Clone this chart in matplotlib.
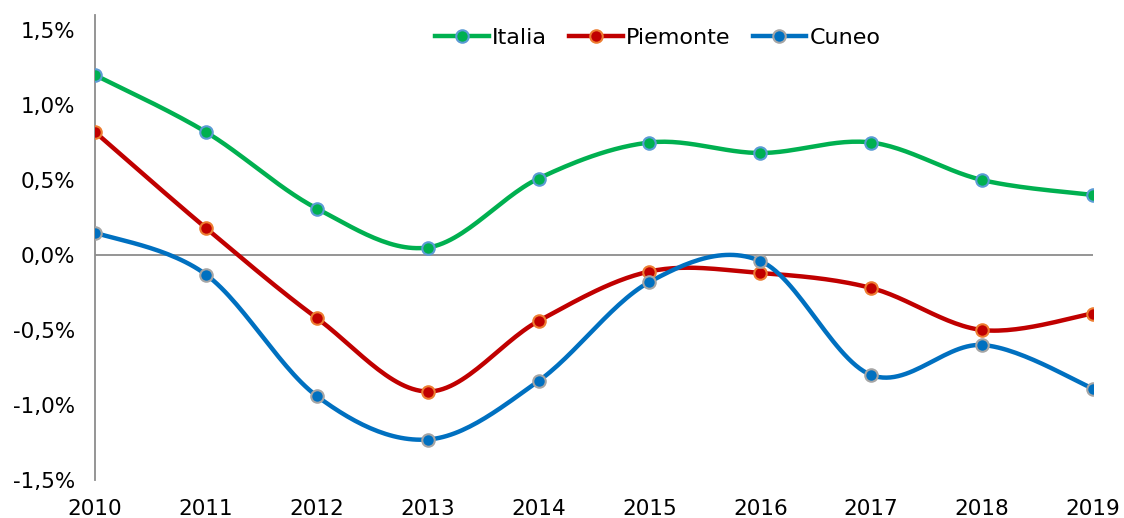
import numpy as np
import matplotlib
matplotlib.use("Agg")
import matplotlib.pyplot as plt
from matplotlib.ticker import FuncFormatter
from matplotlib.lines import Line2D

years = [2010, 2011, 2012, 2013, 2014, 2015, 2016, 2017, 2018, 2019]
italia = [1.20, 0.82, 0.31, 0.05, 0.51, 0.75, 0.68, 0.75, 0.50, 0.40]
piemonte = [0.82, 0.18, -0.42, -0.91, -0.44, -0.11, -0.12, -0.22, -0.50, -0.39]
cuneo = [0.15, -0.13, -0.94, -1.23, -0.84, -0.18, -0.04, -0.80, -0.60, -0.89]

series = [
    ("Italia", italia, "#00B050", "#5B9BD5"),
    ("Piemonte", piemonte, "#C00000", "#ED7D31"),
    ("Cuneo", cuneo, "#0070C0", "#A5A5A5"),
]


def smooth(x, y, n=30):
    x = np.asarray(x, float)
    y = np.asarray(y, float)
    P = np.column_stack([x, y])
    out = []
    for i in range(len(P) - 1):
        p0 = P[i - 1] if i > 0 else P[i]
        p1 = P[i]
        p2 = P[i + 1]
        p3 = P[i + 2] if i + 2 < len(P) else P[i + 1]
        c1 = p1 + (p2 - p0) / 6.0
        c2 = p2 - (p3 - p1) / 6.0
        t = np.linspace(0, 1, n)[:, None]
        seg = ((1 - t) ** 3) * p1 + 3 * ((1 - t) ** 2) * t * c1 + 3 * (1 - t) * t ** 2 * c2 + t ** 3 * p2
        if i > 0:
            seg = seg[1:]
        out.append(seg)
    out = np.vstack(out)
    return out[:, 0], out[:, 1]


fig = plt.figure(figsize=(11.24, 5.18), dpi=100)
ax = fig.add_axes([95 / 1124, 1 - 480 / 518, (1093 - 95) / 1124, (480 - 15) / 518])

for name, vals, col, edge in series:
    sx, sy = smooth(years, vals)
    ax.plot(sx, sy, color=col, lw=3.2, solid_capstyle="round", zorder=3)
    ax.plot(years, vals, ls="none", marker="o", ms=9, mfc=col, mec=edge, mew=1.5, zorder=4)

ax.axhline(0, color="#8C8C8C", lw=1.3, zorder=1)
ax.set_xlim(2010, 2019)
ax.set_ylim(-1.5, 1.6)
ax.set_yticks([-1.5, -1.0, -0.5, 0.0, 0.5, 1.0, 1.5])
ax.set_xticks(years)
ax.yaxis.set_major_formatter(FuncFormatter(lambda v, p: ("%.1f%%" % v).replace(".", ",")))

for s in ["top", "right", "bottom"]:
    ax.spines[s].set_visible(False)
ax.spines["left"].set_color("#8C8C8C")
ax.spines["left"].set_linewidth(1.3)
ax.tick_params(axis="both", length=0, labelsize=15.5, colors="black")
ax.tick_params(axis="y", pad=14)
ax.tick_params(axis="x", pad=14)

handles = [
    Line2D([0], [0], color=col, lw=3.2, marker="o", ms=9, mfc=col, mec=edge, mew=1.5)
    for name, vals, col, edge in series
]
ax.legend(handles, [s[0] for s in series], loc="upper center", bbox_to_anchor=(0.564, 1.015),
          ncol=3, frameon=False, fontsize=16, handlelength=2.4, handletextpad=0.15,
          columnspacing=1.0)

fig.savefig("out.png", dpi=100)
